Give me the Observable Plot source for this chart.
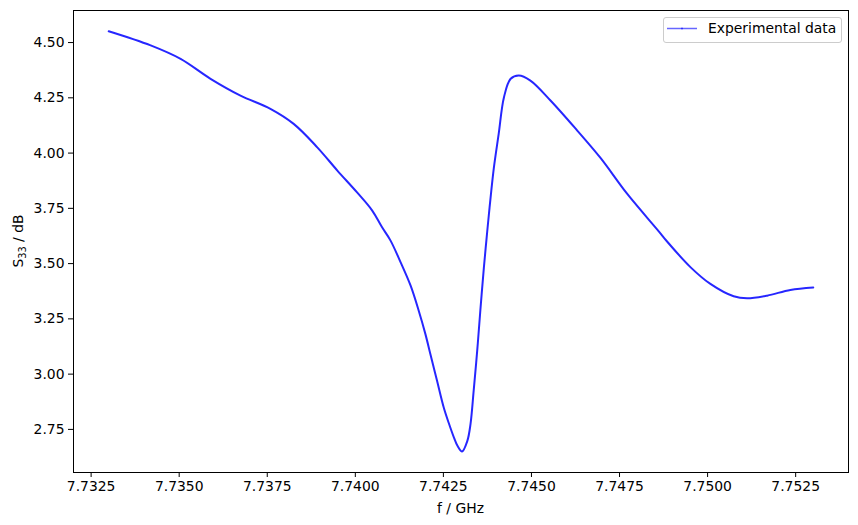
<!DOCTYPE html>
<html><head><meta charset="utf-8">
<script src="https://cdn.jsdelivr.net/npm/d3@7"></script>
<script src="https://cdn.jsdelivr.net/npm/@observablehq/plot@0.6"></script>
<style>body{margin:0;background:#fff} #chart{width:858px;height:525px}</style>
</head><body><div id="chart"></div>
<script>
const freq = [7.7330, 7.73419, 7.73504, 7.73589, 7.73674, 7.73759, 7.73825, 7.73892, 7.73949, 7.74005,
  7.74048, 7.74076, 7.74100, 7.74128, 7.74157, 7.74180, 7.74199, 7.74213, 7.74232, 7.74251,
  7.74265, 7.74280, 7.74290, 7.74303, 7.74318, 7.74327, 7.74336, 7.74346, 7.74355, 7.74365,
  7.74372, 7.74379, 7.74393, 7.74407, 7.74422, 7.74441, 7.74464, 7.74497, 7.74554, 7.74630,
  7.74696, 7.74772, 7.74862, 7.74885, 7.74952, 7.75008, 7.75074, 7.75112, 7.75169,
  7.75235, 7.7530];
const s33 = [4.551, 4.487, 4.426, 4.336, 4.260, 4.200, 4.132, 4.026, 3.921, 3.822,
  3.740, 3.664, 3.604, 3.508, 3.400, 3.287, 3.181, 3.091, 2.970, 2.849,
  2.780, 2.713, 2.676, 2.650, 2.698, 2.774, 2.925, 3.106, 3.290, 3.483,
  3.604, 3.720, 3.930, 4.087, 4.253, 4.336, 4.351, 4.328, 4.238, 4.102,
  3.978, 3.815, 3.645, 3.600, 3.483, 3.408, 3.352, 3.343, 3.355,
  3.381, 3.392];
const xTicks = [7.7325, 7.7350, 7.7375, 7.7400, 7.7425, 7.7450, 7.7475, 7.7500, 7.7525];
const yTicks = [2.75, 3.00, 3.25, 3.50, 3.75, 4.00, 4.25, 4.50];
const seriesName = "Experimental data";
const xLabel = "f / GHz";

const data = freq.map((f, i) => ({f, s: s33[i]}));
const font = "DejaVu Sans, sans-serif";

const svg = Plot.plot({
  width: 858, height: 525,
  marginLeft: 73, marginRight: 10, marginTop: 10, marginBottom: 53,
  style: {fontFamily: font, fontSize: "13.9px", color: "black", background: "white"},
  x: {domain: [7.7320, 7.7540], label: null},
  y: {domain: [2.555, 4.645], label: null},
  marks: [
    Plot.axisX({ticks: xTicks, tickFormat: d3.format(".4f"), tickSize: 5, tickPadding: 4, label: null, stroke: "black", strokeOpacity: 1, fontSize: 13.9}),
    Plot.axisY({ticks: yTicks, tickFormat: d3.format(".2f"), tickSize: 5, tickPadding: 4, label: null, stroke: "black", strokeOpacity: 1, fontSize: 13.9}),
    Plot.line(data, {x: "f", y: "s", stroke: "#0000ff", strokeOpacity: 0.85, strokeWidth: 2, curve: "catmull-rom"}),
    Plot.frame({stroke: "black", strokeWidth: 1})
  ]
});
document.getElementById("chart").appendChild(svg);

const s = d3.select(svg);
s.append("text").attr("x", 460.5).attr("y", 513).attr("text-anchor", "middle")
  .attr("font-family", font).attr("font-size", 13.9).attr("fill", "black").text(xLabel);
const yl = s.append("text").attr("transform", "translate(23,241) rotate(-90)").attr("text-anchor", "middle")
  .attr("font-family", font).attr("font-size", 13.9).attr("fill", "black");
yl.append("tspan").text("S");
yl.append("tspan").attr("font-size", 9.7).attr("dy", 2.5).text("33");
yl.append("tspan").attr("dy", -2.5).text(" / dB");

const lg = s.append("g");
lg.append("rect").attr("x", 663.5).attr("y", 17.5).attr("width", 178).attr("height", 25).attr("rx", 2.5)
  .attr("fill", "white").attr("fill-opacity", 0.8).attr("stroke", "#cccccc");
lg.append("line").attr("x1", 667).attr("x2", 697).attr("y1", 28.5).attr("y2", 28.5)
  .attr("stroke", "#0000ff").attr("stroke-opacity", 0.6).attr("stroke-width", 1.5);
lg.append("circle").attr("cx", 682).attr("cy", 28.5).attr("r", 1).attr("fill", "#0000ff").attr("fill-opacity", 0.6);
lg.append("text").attr("x", 708).attr("y", 28.5).attr("dy", "0.35em").attr("text-anchor", "start")
  .attr("font-family", font).attr("font-size", 13.9).attr("fill", "black").text(seriesName);
</script>
</body></html>
